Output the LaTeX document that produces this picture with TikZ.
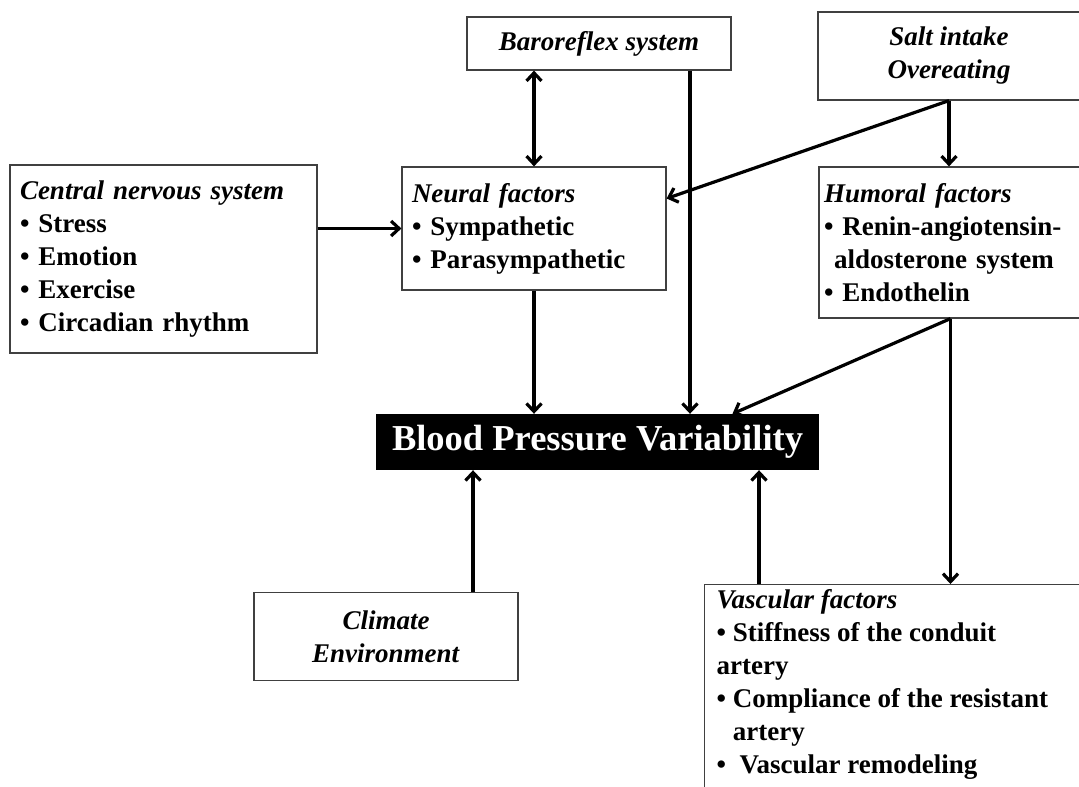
\documentclass[tikz,border=0pt]{standalone}
\usepackage{fontspec}
\setmainfont{Liberation Serif}
\usetikzlibrary{arrows.meta}
\usetikzlibrary{positioning}

\newcommand{\bodyfont}{\fontsize{27}{33}\selectfont\bfseries}

\begin{document}
\begin{tikzpicture}[x=1pt,y=-1pt]
      \tikzstyle{every node}=[inner sep=0pt]
      \tikzstyle{factor}=[draw=black!75, line width=1.2pt, fill=white, align=left, inner xsep=10pt, font=\bodyfont]
      \tikzstyle{link}=[line width=3.2pt, >={Straight Barb[length=8pt,width=15pt]}]
      \useasboundingbox (0,0) rectangle (1079,787);
      \clip (0,0) rectangle (1079,787);

      \node[factor, text width=287pt, minimum height=188pt] (central) at (163.5,259)
        {\textit{Central nervous system}\\• Stress\\• Emotion\\• Exercise\\• Circadian rhythm};
      \node[factor, text width=244pt, minimum height=123pt] (neural) at (534,228.5)
        {\textit{Neural factors}\\• Sympathetic\\• Parasympathetic};
      \node[factor, align=center, minimum width=264pt, minimum height=53pt] (baro) at (599,43.5)
        {\textit{Baroreflex system}};
      \node[factor, align=center, minimum width=262pt, minimum height=88pt] (salt) at (949,56)
        {\textit{Salt intake}\\\textit{Overeating}};
      \node[factor, inner xsep=5pt, text width=253pt, minimum height=151pt] (humoral) at (950.5,242.5)
        {\textit{Humoral factors}\\• Renin-angiotensin-\\\hspace*{10pt}aldosterone system\\• Endothelin};
      \node[fill=black, text=white, font=\fontsize{36.5}{40}\selectfont\bfseries,
        minimum width=443pt, minimum height=56pt] (bpv) at (597.5,442)
        {Blood Pressure Variability};
      \node[factor, align=center, minimum width=264pt, minimum height=88pt] (climate) at (386,636.5)
        {\textit{Climate}\\\textit{Environment}};
      \node[factor, anchor=north west, inner xsep=12pt, inner ysep=5pt] (vasc) at (704,584)
        {\parbox[t][240pt][t]{365pt}{\raggedright\textit{Vascular factors}\\• Stiffness of the conduit\\artery\\• Compliance of the resistant\\\phantom{•} artery\\•\ \ Vascular remodeling}};

      \draw[link,->] (central.east |- neural) -- (neural.west);
      \draw[link,<->] (neural.north) -- (neural.north |- baro.south);
      \draw[link,->] (neural.south) -- (neural.south |- bpv.north);
      \draw[link,->] ([xshift=91pt]baro.south) -- ([xshift=91pt]baro.south |- bpv.north);
      \draw[link,->] (salt.south) -- (salt.south |- humoral.north);
      \draw[link,->] (salt.south) -- ([yshift=30pt]neural.east);
      \draw[link,->] (humoral.south) -- ([xshift=135pt]bpv.north);
      \draw[link,->] (humoral.south) -- (humoral.south |- vasc.north);
      \draw[link,->] ([xshift=87pt]climate.north) -- ([xshift=87pt]climate.north |- bpv.south);
      \draw[link,->] ([xshift=55pt]vasc.north west) -- ([xshift=55pt]vasc.north west |- bpv.south);
    \end{tikzpicture}
\end{document}
